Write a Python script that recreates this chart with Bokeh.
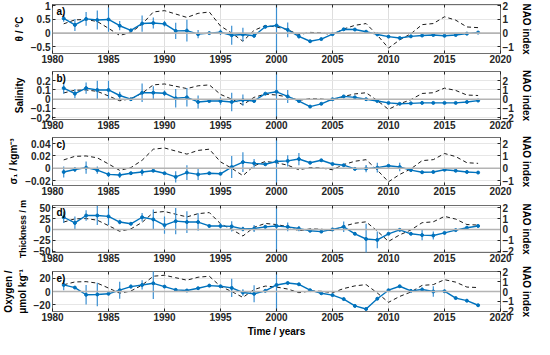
from bokeh.plotting import figure
from bokeh.models import Range1d, LinearAxis, FixedTicker, Span, Label
from bokeh.layouts import column
from bokeh.embed import file_html
from bokeh.resources import INLINE

years = list(range(1981, 2019))

nao = [0.68, 0.97, 1.0, 0.85, 0.35, -0.17, 0.05, 0.65, 1.55, 1.65, 1.4, 1.15, 1.45, 1.55,
       0.52, 0.0, -0.6, 0.2, 0.55, 0.45, 0.25, -0.12, 0.05, 0.02, -0.12, 0.3, 0.57, 0.7,
       -0.15, -1.1, -0.5, -0.05, 0.62, 0.7, 1.2, 0.95, 0.45, 0.4]

theta = [0.54, 0.3, 0.52, 0.48, 0.5, 0.27, 0.1, 0.35, 0.37, 0.34, 0.08, 0.09, -0.04, 0.0,
         0.03, -0.08, -0.05, -0.1, 0.23, 0.28, 0.12, -0.12, -0.3, -0.22, -0.04, 0.14, 0.13,
         0.05, -0.05, -0.13, -0.18, -0.12, -0.09, -0.07, -0.1, -0.07, -0.02, 0.02]
theta_err = [0.12, 0.22, 0.25, 0.35, 0.45, 0.17, 0.05, 0.3, 0.2, 0.1, 0.3, 0.4, 0.15, 0.04,
             0.1, 0.35, 0.25, 0.07, 0.05, 3.0, 0.27, 0.08, 0.04, 0.04, 0.04, 0.04, 0.04,
             0.04, 0.04, 0.04, 0.04, 0.04, 0.03, 0.03, 0.03, 0.03, 0.03, 0.03]

salinity = [0.12, 0.06, 0.12, 0.1, 0.1, 0.04, 0.0, 0.07, 0.07, 0.065, 0.01, 0.02, -0.03,
            -0.02, -0.02, -0.03, -0.01, -0.02, 0.06, 0.08, 0.03, -0.02, -0.08, -0.05, 0.0,
            0.03, 0.02, 0.0, -0.02, -0.04, -0.05, -0.045, -0.04, -0.04, -0.04, -0.04,
            -0.03, -0.015]
salinity_err = [0.06, 0.05, 0.06, 0.1, 0.1, 0.04, 0.01, 0.1, 0.07, 0.03, 0.1, 0.1, 0.07,
                0.01, 0.04, 0.1, 0.06, 0.01, 0.01, 1.0, 0.07, 0.01, 0.01, 0.01, 0.01, 0.01,
                0.01, 0.01, 0.01, 0.01, 0.01, 0.01, 0.01, 0.01, 0.01, 0.01, 0.01, 0.01]

sigma = [-0.006, -0.002, 0.001, -0.003, -0.01, -0.011, -0.008, -0.006, -0.004, -0.008,
         -0.014, -0.007, -0.01, -0.008, -0.009, 0.002, 0.01, 0.008, 0.0065, 0.011, 0.012,
         0.015, 0.009, 0.013, 0.007, 0.005, -0.001, -0.0005, 0.001, 0.004, 0.002, -0.003,
         -0.0065, -0.006, -0.0025, -0.004, -0.006, -0.007]
sigma_err = [0.009, 0.004, 0.01, 0.006, 0.004, 0.005, 0.002, 0.006, 0.002, 0.002, 0.009,
             0.012, 0.009, 0.002, 0.002, 0.018, 0.016, 0.007, 0.002, 0.2, 0.009, 0.01,
             0.002, 0.002, 0.002, 0.002, 0.002, 0.006, 0.008, 0.002, 0.007, 0.002, 0.002,
             0.002, 0.002, 0.002, 0.002, 0.002]

thickness = [28, 15, 32, 32, 30, 17, 13, 28, 23, 10, 19, 17, 17, 8, 8, 7, 1, 2, 6, 8, 6, 2,
             -3, -5, 0, 6, -10, -22, -24, -10, -1, -10, -13, -14, -8, -1.5, 4, 8]
thickness_err = [13, 15, 12, 22, 20, 5, 3, 10, 23, 20, 30, 25, 20, 3, 6, 12, 5, 8, 3, 200,
                 10, 6, 3, 3, 3, 12, 3, 35, 19, 3, 3, 3, 12, 9, 3, 3, 3, 3]

oxygen = [10, 6, -5, -4.5, -3.5, 2, 7.5, 10, 12.5, 7.5, 2.5, 1.5, 5, 9, 8, 5.5, -1.5, -3.5,
          1, 10, 13, 11, 2, -2.7, -5.5, -11.5, -22, -26.7, -11, 2, 8, 1, 3, 0, 0.5, -10,
          -14, -21]
oxygen_err = [8, 2, 15, 18, 2, 13, 3, 7, 24, 2, 2, 2, 2, 2, 2, 14, 5, 13, 2, 100, 2, 2, 2, 2,
              2, 2, 2, 2, 2, 2, 2, 2, 3, 8, 2, 2, 2, 2]

year_ticks = [1980, 1985, 1990, 1995, 2000, 2005, 2010, 2015, 2020]

FONT = "Liberation Sans"
BLUE = "#0072BD"
ERRC = "#3a8fd2"
FRAME = "#6e6e6e"
TXT = "#262626"


def style_axis(ax, label_size="10px"):
    ax.major_label_text_font = FONT
    ax.major_label_text_font_style = "bold"
    ax.major_label_text_font_size = "10px"
    ax.major_label_text_color = TXT
    ax.axis_label_text_font = FONT
    ax.axis_label_text_font_style = "bold"
    ax.axis_label_text_font_size = label_size
    ax.axis_label_text_color = "black"
    ax.major_tick_out = 0
    ax.major_tick_in = 3
    ax.minor_tick_out = 0
    ax.minor_tick_in = 0
    ax.major_tick_line_color = TXT
    ax.axis_line_color = None
    ax.major_label_standoff = 2
    ax.axis_label_standoff = 3


def panel(letter, ylabel, vals, errs, ylim, yticks, nlim, nticks, height, top,
          xlabel=None, ylabel_size="10px"):
    p = figure(width=534, height=height, x_range=Range1d(1980, 2020),
               y_range=Range1d(*ylim), output_backend="svg", toolbar_location=None,
               min_border_left=44, min_border_right=30, min_border_top=top,
               min_border_bottom=0)
    p.outline_line_color = FRAME
    p.outline_line_width = 1
    p.background_fill_color = "white"
    p.border_fill_color = "white"

    xt = FixedTicker(ticks=year_ticks)
    p.xaxis.ticker = xt
    p.yaxis.ticker = FixedTicker(ticks=yticks)
    p.xgrid.ticker = xt
    p.ygrid.ticker = FixedTicker(ticks=yticks)
    p.xgrid.grid_line_color = "#dedede"
    p.ygrid.grid_line_color = "#e6e6e6"
    style_axis(p.xaxis[0])
    p.xaxis.major_label_standoff = 1
    style_axis(p.yaxis[0], ylabel_size)
    p.yaxis.axis_label = ylabel
    if xlabel:
        p.xaxis.axis_label = xlabel
        p.xaxis.axis_label_standoff = 2

    top_ax = LinearAxis(ticker=xt, major_label_text_font_size="0px",
                        major_label_text_alpha=0, major_label_standoff=0,
                        major_tick_out=0, major_tick_in=3, minor_tick_in=0,
                        minor_tick_out=0, axis_line_color=None,
                        major_tick_line_color=TXT)
    p.add_layout(top_ax, "above")

    p.extra_y_ranges = {"nao": Range1d(*nlim)}
    rax = LinearAxis(y_range_name="nao", ticker=FixedTicker(ticks=nticks),
                     axis_label="NAO index")
    style_axis(rax)
    rax.axis_label_standoff = 4
    p.add_layout(rax, "right")

    p.add_layout(Span(location=0, dimension="width", line_color="#b4b4b4", line_width=1.6))

    p.line(years, nao, y_range_name="nao", line_color="#1a1a1a", line_width=1,
           line_dash="4 3")

    lo = [v - e for v, e in zip(vals, errs)]
    hi = [v + e for v, e in zip(vals, errs)]
    p.segment(x0=years, y0=lo, x1=years, y1=hi, line_color=ERRC, line_width=1.2)
    p.line(years, vals, line_color=BLUE, line_width=1.4)
    p.scatter(years, vals, size=3, marker="circle", fill_color=BLUE, line_color=BLUE)

    p.add_layout(Label(x=1980.35, y=ylim[1], text=letter, text_baseline="top",
                       text_font=FONT, text_font_style="bold", text_font_size="10px",
                       text_color="black", y_offset=-1))
    return p


pa = panel("a)", "θ / °C", theta, theta_err, (-0.75, 1.05), [-0.5, 0, 0.5, 1],
           (-1.5, 2.1), [-1, 0, 1, 2], 65, 4)
pb = panel("b)", "Salinity", salinity, salinity_err, (-0.22, 0.3),
           [-0.2, -0.1, 0, 0.1, 0.2], (-2.2, 3.0), [-2, -1, 0, 1, 2], 66, 6)
pc = panel("c)", "σ₁ / kgm⁻³", sigma, sigma_err, (-0.028, 0.05),
           [-0.02, 0, 0.02, 0.04], (-1.4, 2.5), [-1, 0, 1, 2], 66, 6)
pd = panel("d)", "Thickness / m", thickness, thickness_err, (-53, 55),
           [-50, -25, 0, 25, 50], (-2.12, 2.2), [-2, -1, 0, 1, 2], 67, 8,
           ylabel_size="8.8px")
pe = panel("e)", "Oxygen /\nμmol kg⁻¹", oxygen, oxygen_err, (-30.5, 30.5),
           [-20, 0, 20], (-2.03, 2.03), [-2, -1, 0, 1, 2], 75, 7, xlabel="Time / years")

layout = column(pa, pb, pc, pd, pe, spacing=0)
open("out.html", "w").write(file_html(layout, INLINE))
